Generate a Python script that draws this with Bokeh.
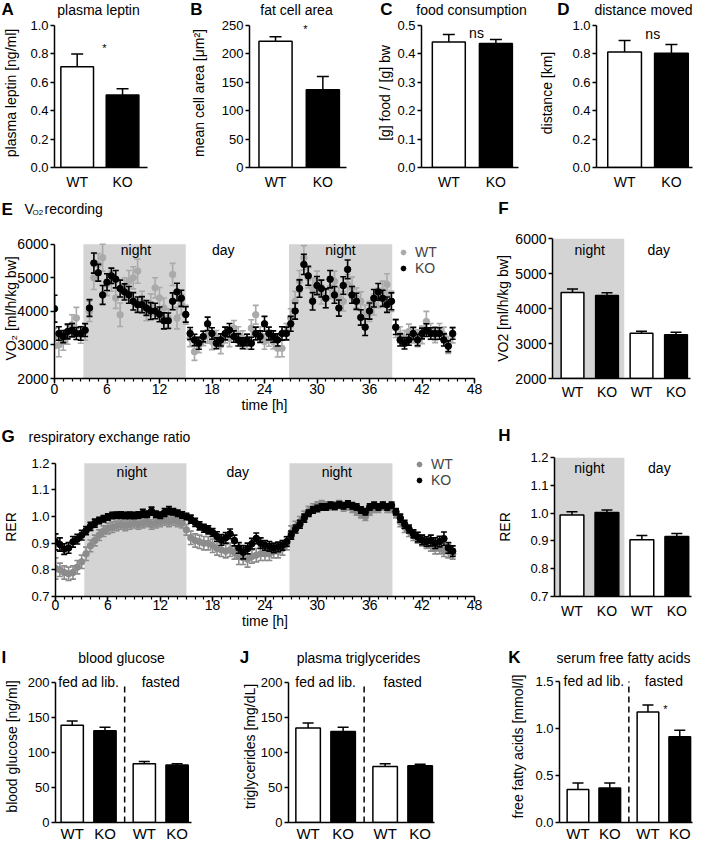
from bokeh.plotting import figure
from bokeh.layouts import column, row
from bokeh.models import (ColumnDataSource, Whisker, TeeHead, Label, FixedTicker,
                          SingleIntervalTicker, NumeralTickFormatter, Range1d,
                          Legend, LegendItem)
from bokeh.embed import file_html
from bokeh.resources import INLINE

FONT = "Liberation Sans"
SHADE = "#d4d4d4"

# ---------------- data ----------------
genotypes2 = ["WT", "KO"]
genotypes4 = ["WT", "KO", "WT", "KO"]

A_vals = [0.71, 0.51]; A_err = [0.09, 0.045]
B_vals = [222, 137]; B_err = [8, 23]
C_vals = [0.442, 0.437]; C_err = [0.026, 0.014]
D_vals = [0.814, 0.805]; D_err = [0.08, 0.062]

F_groups = ["night", "night", "day", "day"]
F_vals = [4460, 4370, 3295, 3250]; F_err = [100, 77, 57, 70]
H_groups = ["night", "night", "day", "day"]
H_vals = [0.993, 1.002, 0.904, 0.916]; H_err = [0.012, 0.009, 0.015, 0.011]

IJK_groups = ["fed ad lib.", "fed ad lib.", "fasted", "fasted"]
I_vals = [139, 131, 84, 82]; I_err = [6, 5, 3, 2]
J_vals = [135, 130, 80, 81]; J_err = [7, 6, 4, 2]
K_vals = [0.35, 0.366, 1.176, 0.912]; K_err = [0.07, 0.053, 0.074, 0.07]

night_hours = [(3.3, 15.0), (26.8, 38.6)]

E_KO = [4080, 3340, 3250, 3400, 3440, 3340, 3340, 3440,
        4100, 5440, 5150, 4490, 4870, 5060, 4960, 4680,
        4580, 4490, 4300, 4200, 4200, 4100, 4010, 4010,
        3910, 3720, 3720, 4300, 4580, 4390, 3910, 3340,
        3150, 3050, 3250, 3630, 3340, 3050, 3150, 3340,
        3440, 3250, 3150, 3050, 3150, 3050, 3340, 3250,
        3630, 3340, 3250, 3150, 3340, 3340, 3630, 4010,
        4680, 5400, 5060, 4300, 4770, 4680, 4390, 4960,
        4490, 4100, 4770, 5250, 4490, 4300, 3820, 3530,
        4010, 4390, 4580, 4390, 4200, 4300, 3530, 3150,
        3050, 3150, 3340, 3150, 3340, 3440, 3340, 3340,
        3340, 3150, 2960, 3340]
E_KO_err = [400, 200, 180, 220, 200, 180, 200, 190,
            250, 300, 250, 280, 250, 230, 260, 250,
            240, 250, 260, 230, 240, 220, 250, 230,
            220, 240, 230, 250, 260, 240, 230, 180,
            170, 180, 160, 200, 170, 160, 180, 190,
            200, 170, 180, 160, 170, 180, 190, 170,
            220, 190, 170, 180, 200, 190, 220, 240,
            260, 300, 280, 260, 270, 250, 280, 260,
            250, 240, 260, 280, 250, 240, 230, 250,
            240, 260, 250, 240, 230, 250, 220, 180,
            170, 160, 180, 170, 160, 190, 170, 180,
            170, 180, 160, 170]
E_WT = [3200, 3000, 3100, 3300, 3600, 3800, 3300, 3400,
        4000, 5000, 5400, 5600, 4800, 4900, 4400, 3900,
        4700, 4900, 5000, 5200, 4300, 4000, 4200, 4700,
        4400, 4100, 3800, 5100, 3800, 4200, 3900, 3200,
        2800, 3000, 3200, 3300, 3100, 3200, 3000, 3300,
        3200, 3500, 3300, 3200, 3100, 3500, 3900, 3300,
        3100, 3200, 3100, 2900, 2900, 3400, 3800, 4300,
        4900, 5600, 5000, 4700, 4900, 4500, 4400, 4700,
        4900, 4400, 4300, 4800, 4700, 4400, 4300, 3900,
        4000, 4200, 4400, 4600, 4800, 4300, 3500, 3300,
        3200, 3400, 3300, 3200, 3300, 3700, 3400, 3300,
        3400, 3300, 3000, 3300]
E_WT_err = [300, 350, 260, 280, 300, 320, 250, 260,
            300, 350, 320, 400, 330, 300, 310, 350,
            300, 320, 330, 360, 300, 280, 320, 300,
            310, 300, 280, 330, 320, 300, 280, 250,
            260, 230, 220, 250, 240, 230, 260, 240,
            250, 230, 240, 220, 230, 250, 280, 240,
            230, 240, 220, 260, 250, 240, 280, 300,
            320, 360, 300, 290, 300, 280, 300, 320,
            300, 310, 290, 300, 320, 300, 280, 290,
            300, 310, 290, 300, 320, 300, 280, 240,
            230, 220, 240, 250, 260, 300, 240, 230,
            240, 230, 250, 240]

G_KO = [0.905, 0.895, 0.878, 0.882, 0.905, 0.915, 0.930, 0.947,
        0.963, 0.975, 0.985, 0.992, 0.998, 1.004, 1.005, 1.006,
        1.004, 1.005, 1.004, 1.006, 1.012, 1.008, 1.020, 1.008,
        1.005, 1.015, 1.022, 1.018, 1.012, 1.006, 1.000, 0.990,
        0.978, 0.965, 0.956, 0.950, 0.940, 0.925, 0.912, 0.920,
        0.935, 0.910, 0.882, 0.866, 0.880, 0.898, 0.918, 0.900,
        0.892, 0.888, 0.882, 0.886, 0.892, 0.906, 0.930, 0.953,
        0.971, 0.994, 1.012, 1.024, 1.030, 1.036, 1.036, 1.042,
        1.038, 1.044, 1.040, 1.047, 1.040, 1.036, 1.024, 1.018,
        1.036, 1.042, 1.036, 1.042, 1.036, 1.042, 1.018, 0.994,
        0.971, 0.953, 0.935, 0.923, 0.912, 0.906, 0.910, 0.900,
        0.906, 0.917, 0.882, 0.870]
G_KO_err = [0.030, 0.025, 0.020, 0.020, 0.020, 0.018, 0.018, 0.015,
            0.015, 0.015, 0.012, 0.012, 0.012, 0.012, 0.012, 0.012,
            0.012, 0.012, 0.012, 0.012, 0.015, 0.012, 0.015, 0.012,
            0.012, 0.015, 0.015, 0.012, 0.012, 0.012, 0.012, 0.015,
            0.015, 0.015, 0.015, 0.015, 0.015, 0.018, 0.020, 0.020,
            0.018, 0.020, 0.020, 0.025, 0.020, 0.020, 0.020, 0.020,
            0.018, 0.018, 0.018, 0.018, 0.018, 0.018, 0.015, 0.015,
            0.015, 0.015, 0.012, 0.012, 0.012, 0.012, 0.012, 0.012,
            0.012, 0.012, 0.012, 0.012, 0.012, 0.012, 0.012, 0.012,
            0.012, 0.012, 0.012, 0.012, 0.012, 0.012, 0.012, 0.015,
            0.015, 0.015, 0.015, 0.018, 0.018, 0.018, 0.020, 0.020,
            0.020, 0.025, 0.020, 0.020]
G_WT = [0.805, 0.800, 0.790, 0.785, 0.790, 0.810, 0.830, 0.860,
        0.890, 0.910, 0.930, 0.945, 0.955, 0.960, 0.965, 0.970,
        0.965, 0.970, 0.975, 0.970, 0.975, 0.980, 0.970, 0.975,
        0.980, 0.985, 0.980, 0.985, 0.980, 0.975, 0.950, 0.920,
        0.910, 0.905, 0.900, 0.900, 0.890, 0.880, 0.875, 0.870,
        0.875, 0.865, 0.850, 0.845, 0.840, 0.850, 0.855, 0.860,
        0.860, 0.860, 0.870, 0.870, 0.880, 0.900, 0.940, 0.960,
        0.980, 1.000, 1.020, 1.030, 1.040, 1.045, 1.040, 1.040,
        1.040, 1.045, 1.035, 1.040, 1.030, 1.020, 1.010, 1.000,
        1.020, 1.030, 1.030, 1.040, 1.030, 1.030, 1.010, 0.980,
        0.960, 0.945, 0.930, 0.920, 0.910, 0.900, 0.890, 0.880,
        0.880, 0.870, 0.870, 0.860]
G_WT_err = [0.040, 0.025, 0.025, 0.025, 0.025, 0.025, 0.025, 0.025,
            0.022, 0.020, 0.020, 0.020, 0.020, 0.020, 0.018, 0.018,
            0.018, 0.018, 0.018, 0.018, 0.018, 0.018, 0.018, 0.018,
            0.018, 0.018, 0.018, 0.018, 0.018, 0.018, 0.020, 0.025,
            0.025, 0.025, 0.025, 0.025, 0.025, 0.025, 0.025, 0.025,
            0.025, 0.025, 0.030, 0.025, 0.030, 0.025, 0.025, 0.025,
            0.025, 0.025, 0.025, 0.025, 0.025, 0.025, 0.025, 0.022,
            0.020, 0.020, 0.018, 0.018, 0.015, 0.015, 0.015, 0.015,
            0.015, 0.015, 0.015, 0.015, 0.015, 0.015, 0.015, 0.015,
            0.015, 0.015, 0.015, 0.015, 0.015, 0.015, 0.015, 0.018,
            0.020, 0.020, 0.020, 0.020, 0.020, 0.020, 0.020, 0.020,
            0.020, 0.020, 0.025, 0.020]
hours = [i * 0.5 for i in range(len(E_KO))]

A_ticks = [0.0, 0.2, 0.4, 0.6, 0.8, 1.0]
B_ticks = [0, 50, 100, 150, 200, 250]
C_ticks = [0.0, 0.1, 0.2, 0.3, 0.4, 0.5]
D_ticks = [0.0, 0.2, 0.4, 0.6, 0.8, 1.0]
VO2_ticks = [2000, 3000, 4000, 5000, 6000]
RER_ticks = [0.7, 0.8, 0.9, 1.0, 1.1, 1.2]
I_ticks = [0, 50, 100, 150, 200]
J_ticks = [0, 50, 100, 150, 200]
K_ticks = [0.0, 0.5, 1.0, 1.5]

# ---------------- layout geometry (page pixels) ----------------
PAGE_W = 693
# band: (header top, header bottom = row top, row bottom, vertical shift ref->page)
BANDS = {1: (0, 18, 193, -2), 2: (193, 221, 421, -4),
         3: (421, 445, 633, -7), 4: (633, 670, 844, -16)}

PANELS = {}


def style_axis(ax, tick_size="13px", label_size="14px"):
    ax.axis_line_color = "black"
    ax.axis_line_width = 1.5
    ax.major_tick_line_color = "black"
    ax.major_tick_line_width = 1.5
    ax.major_tick_out = 4
    ax.major_tick_in = 0
    ax.minor_tick_line_color = None
    ax.major_label_text_font = FONT
    ax.major_label_text_font_size = tick_size
    ax.major_label_text_color = "black"
    ax.axis_label_text_font = FONT
    ax.axis_label_text_font_size = label_size
    ax.axis_label_text_font_style = "normal"
    ax.axis_label_text_color = "black"
    ax.major_label_standoff = 2


def header(band, items):
    top, bottom, _, dy = BANDS[band]
    H = bottom - top
    p = figure(width=PAGE_W, height=H, x_range=Range1d(0, PAGE_W), y_range=Range1d(H, 0),
               x_axis_type=None, y_axis_type=None, output_backend="svg",
               toolbar_location=None, title=None, min_border=0)
    p.outline_line_color = None
    p.background_fill_color = "white"
    p.border_fill_color = "white"
    for rx, ry, dx, text, size, align, style in items:
        y = min(max(ry + dy - top, 9), H - 9)
        x = max(rx + dx, 1)
        p.add_layout(Label(x=x, y=y, text=text, text_align=align,
                           text_baseline="middle", text_font=FONT, text_font_size=size,
                           text_font_style=style, text_color="black"))
    return p


def make_fig(key, band, dx, xbox, frame, xr, yr, ext_px=0):
    _, top, bottom, dy = BANDS[band]
    l, r = xbox
    fl, ft, fr, fb = frame
    W = r - l
    H = bottom - top
    real_top = int(round(ft + dy))
    frame_top = max(real_top - ext_px, top)
    ext = real_top - frame_top
    fbot = int(round(fb + dy))
    y_end = yr[1] + ext / (fbot - real_top) * (yr[1] - yr[0])
    bl = fl - l
    br = r - fr
    bt = frame_top - top
    bb = bottom - fbot
    p = figure(width=W, height=H, x_range=Range1d(*xr), y_range=Range1d(yr[0], y_end),
               output_backend="svg", toolbar_location=None, title=None,
               min_border_left=bl, min_border_right=br,
               min_border_top=bt, min_border_bottom=bb)
    p.outline_line_color = None
    p.grid.visible = False
    p.background_fill_color = "white"
    p.border_fill_color = "white"
    PANELS[key] = dict(p=p, l=l + dx, t=top, dx=dx, dy=dy, fx0=bl, fx1=W - br,
                       fy0=bt, fy1=H - bb, xr=xr, yr=(yr[0], y_end))
    return p


def put(key, rx, ry, text, size="14px", align="center", style="normal", dx=None):
    d = PANELS[key]
    py = ry + d["dy"] - d["t"]
    x0, x1 = d["xr"]
    y0, y1 = d["yr"]
    if dx is None:
        px = rx + d["dx"] - d["l"]
        dx = x0 + (px - d["fx0"]) / (d["fx1"] - d["fx0"]) * (x1 - x0)
    dyv = y1 - (py - d["fy0"]) / (d["fy1"] - d["fy0"]) * (y1 - y0)
    d["p"].add_layout(Label(x=dx, y=dyv, text=text, text_align=align,
                            text_baseline="middle", text_font=FONT,
                            text_font_size=size, text_font_style=style,
                            text_color="black"))


def bar_panel(key, band, dx, xbox, frame, xr, yr, yticks, fmt, ylabel, genos, vals, errs,
              width, groups=None, gap=0.0, shade_first=False, dashed=False, ext_px=0,
              tick_size="13px", xl_size="14px", yl_standoff=5, xl_standoff=6, cap=12):
    p = make_fig(key, band, dx, xbox, frame, xr, yr, ext_px)
    if groups is None:
        groups = ["all"] * len(vals)
    order = []
    for g in groups:
        if g not in order:
            order.append(g)
    xs = [i + gap * order.index(g) for i, g in enumerate(groups)]
    if len(order) > 1:
        last0 = max(x for x, g in zip(xs, groups) if g == order[0])
        first1 = min(x for x, g in zip(xs, groups) if g == order[1])
        boundary = (last0 + first1) / 2
        if shade_first:
            p.quad(left=xr[0], right=boundary, bottom=yr[0], top=yr[1],
                   fill_color=SHADE, line_color=None)
        if dashed:
            p.segment(x0=boundary, y0=yr[0], x1=boundary, y1=yr[1], line_color="black",
                      line_width=1.5, line_dash="6 4")
    fills = ["white" if g == "WT" else "black" for g in genos]
    src = ColumnDataSource(dict(x=xs, top=vals, upper=[v + e for v, e in zip(vals, errs)],
                                fill=fills))
    p.vbar(x="x", top="top", bottom=yr[0], width=width, fill_color="fill",
           line_color="black", line_width=1.5, source=src)
    p.add_layout(Whisker(source=src, base="x", upper="upper", lower="top",
                         dimension="height", line_color="black", line_width=1.5,
                         level="annotation",
                         upper_head=TeeHead(size=cap, line_color="black", line_width=1.5),
                         lower_head=None))
    for ax in p.axis:
        style_axis(ax, tick_size)
    p.yaxis.ticker = FixedTicker(ticks=yticks)
    p.yaxis.bounds = (yr[0], yr[1])
    if fmt:
        p.yaxis.formatter = NumeralTickFormatter(format=fmt)
    p.yaxis.axis_label = ylabel
    p.yaxis.axis_label_standoff = yl_standoff
    p.xaxis.ticker = FixedTicker(ticks=xs)
    p.xaxis.major_label_overrides = {x: g for x, g in zip(xs, genos)}
    p.xaxis.major_tick_line_color = None
    p.xaxis.major_tick_out = 0
    p.xaxis.major_label_text_font_size = xl_size
    p.xaxis.major_label_standoff = xl_standoff
    means = {g: sum(x for x, gg in zip(xs, groups) if gg == g) /
             sum(1 for gg in groups if gg == g) for g in order}
    return p, means


def ts_panel(key, band, dx, xbox, frame, yr, yticks, fmt, ylabel, wt, wt_err, ko, ko_err,
             wt_color, legend_ref, yl_standoff, tick_size, xtick_standoff, ext_px):
    p = make_fig(key, band, dx, xbox, frame, (0, 48), yr, ext_px)
    for a, b in night_hours:
        p.quad(left=a, right=b, bottom=yr[0], top=yr[1], fill_color=SHADE, line_color=None)
    rends = []
    for vals, errs, col in [(wt, wt_err, wt_color), (ko, ko_err, "black")]:
        src = ColumnDataSource(dict(t=hours, v=vals,
                                    lo=[v - e for v, e in zip(vals, errs)],
                                    hi=[v + e for v, e in zip(vals, errs)]))
        p.segment(x0="t", y0="lo", x1="t", y1="hi", line_color=col, line_width=1.6, source=src)
        p.scatter("t", "hi", marker="dash", size=6, line_color=col, line_width=1.6, source=src)
        p.scatter("t", "lo", marker="dash", size=6, line_color=col, line_width=1.6, source=src)
        r = p.scatter("t", "v", size=6.5, fill_color=col, line_color=col, source=src)
        rends.append(r)
    for ax in p.axis:
        style_axis(ax, tick_size)
    p.yaxis.ticker = FixedTicker(ticks=yticks)
    p.yaxis.bounds = (yr[0], yr[1])
    if fmt:
        p.yaxis.formatter = NumeralTickFormatter(format=fmt)
    p.yaxis.axis_label = ylabel
    p.yaxis.axis_label_standoff = yl_standoff
    p.xaxis.ticker = SingleIntervalTicker(interval=6, num_minor_ticks=6)
    p.xaxis.minor_tick_line_color = "black"
    p.xaxis.minor_tick_line_width = 1.2
    p.xaxis.minor_tick_out = 3
    p.xaxis.minor_tick_in = 0
    p.xaxis.major_tick_out = 5
    p.xaxis.major_label_standoff = xtick_standoff
    p.xaxis.major_label_text_font_size = "14px"
    p.xaxis.axis_label = "time [h]"
    p.xaxis.axis_label_standoff = 0
    d = PANELS[key]
    lx, ly = legend_ref
    leg_h = 32
    loc = (lx + d["dx"] - d["l"] - d["fx0"], d["fy1"] - (ly + d["dy"] - d["t"]) - leg_h)
    leg = Legend(items=[LegendItem(label="WT", renderers=[rends[0]]),
                        LegendItem(label="KO", renderers=[rends[1]])],
                 location=loc, background_fill_alpha=0, border_line_color=None,
                 label_text_font=FONT, label_text_font_size="14px",
                 glyph_width=12, glyph_height=16, label_height=16, label_standoff=6,
                 spacing=0, padding=0, margin=0)
    p.add_layout(leg)
    return p


def LB(dx, align="center"):
    return (dx, None, "17px", align, "bold")


def hi(rx, ry, dx, text, size="14px", align="center", style="normal"):
    return (rx, ry, dx, text, size, align, style)


# ---------------- row 1 ----------------
dA, dB, dC, dD = -2, -4, -7, -10
h1 = header(1, [hi(3, 12, dA, "A", "17px", "left", "bold"), hi(100, 13, dA, "plasma leptin"),
                hi(200, 12, dB, "B", "17px", "center", "bold"), hi(300, 13, dB, "fat cell area"),
                hi(393, 12, dC, "C", "17px", "center", "bold"), hi(478, 12, dC, "food consumption"),
                hi(573, 12, dD, "D", "17px", "center", "bold"), hi(653, 12, dD, "distance moved")])

pA, _ = bar_panel("A", 1, dA, (2, 189), (52, 27, 149, 169), (-0.5, 1.55), (0, 1.0), A_ticks,
                  "0.0", "plasma leptin [ng/ml]", genotypes2, A_vals, A_err, 0.72,
                  ext_px=10, yl_standoff=8)
put("A", 104, 49, "*", size="11px")

pB, _ = bar_panel("B", 1, dB, (191, 375), (253, 27, 350, 170), (-0.55, 1.5), (0, 250), B_ticks,
                  None, "mean cell area [μm²]", genotypes2, B_vals, B_err, 0.7,
                  ext_px=10, yl_standoff=12)
put("B", 309, 31, "*", size="11px")

pC, _ = bar_panel("C", 1, dC, (378, 543), (428, 27, 525, 169), (-0.58, 1.48), (0, 0.5), C_ticks,
                  "0.0", "[g] food / [g] bw", genotypes2, C_vals, C_err, 0.7,
                  ext_px=10, yl_standoff=1)
put("C", 483, 34, "ns")

pD, _ = bar_panel("D", 1, dD, (546, 703), (603, 27, 702, 169), (-0.6, 1.45), (0, 1.0), D_ticks,
                  "0.0", "distance [km]", genotypes2, D_vals, D_err, 0.72,
                  ext_px=10, yl_standoff=14)
put("D", 661, 35, "ns")

# ---------------- row 2 ----------------
dE, dF = -2, -10
h2 = header(2, [hi(3, 213, dE, "E", "17px", "left", "bold"), hi(26, 212, dE, "V", "14px", "left"),
                hi(34, 217, dE, "O2", "8px", "left"),
                hi(46, 212, dE, "recording", "14px", "left"),
                hi(513, 212, dF, "F", "17px", "center", "bold")])

pE = ts_panel("E", 2, dE, (2, 487), (53, 242, 476, 382), (2000, 6000), VO2_ticks, None,
              "VO₂ [ml/h/kg bw]", E_WT, E_WT_err, E_KO, E_KO_err, "#aaaaaa",
              (396, 248), -5, "14px", 0, 6)
put("E", 135, 248, "night")
put("E", 223, 248, "day")
put("E", 341, 248, "night")

pF, Fm = bar_panel("F", 2, dF, (495, 703), (562, 242, 700, 382), (-0.58, 3.42), (2000, 6000),
                   VO2_ticks, None, "VO2 [ml/h/kg bw]", genotypes4, F_vals, F_err, 0.66,
                   groups=F_groups, shade_first=True, tick_size="14px", yl_standoff=1,
                   xl_standoff=5, cap=11)
put("F", None, 253, "night", dx=Fm["night"])
put("F", None, 253, "day", dx=Fm["day"])

# ---------------- row 3 ----------------
dG, dH = -2, -11
h3 = header(3, [hi(3, 443, dG, "G", "17px", "left", "bold"),
                hi(30, 443, dG, "respiratory exchange ratio", "14px", "left"),
                hi(515, 442, dH, "H", "17px", "center", "bold")])

pG = ts_panel("G", 3, dG, (2, 487), (53, 462, 476, 603), (0.7, 1.2), RER_ticks, "0.0",
              "RER", G_WT, G_WT_err, G_KO, G_KO_err, "#8c8c8c",
              (411, 463), 9, "13px", -2, 6)
put("G", 130, 471, "night")
put("G", 237, 471, "day")
put("G", 337, 471, "night")

pH, Hm = bar_panel("H", 3, dH, (496, 704), (565, 464, 702, 605), (-0.5, 3.42), (0.7, 1.2),
                   RER_ticks, "0.0", "RER", genotypes4, H_vals, H_err, 0.68,
                   groups=H_groups, shade_first=True, tick_size="13px", yl_standoff=14,
                   xl_standoff=6, cap=11)
put("H", None, 475, "night", dx=Hm["night"])
put("H", None, 475, "day", dx=Hm["day"])

# ---------------- row 4 ----------------
dI, dJ, dK = -2, -5, -9
h4 = header(4, [hi(3, 673, dI, "I", "17px", "left", "bold"), hi(123, 673, dI, "blood glucose"),
                hi(249, 673, dJ, "J", "17px", "center", "bold"),
                hi(363, 673, dJ, "plasma triglycerides"),
                hi(523, 673, dK, "K", "17px", "center", "bold"),
                hi(632, 673, dK, "serum free fatty acids")])

pI, Im = bar_panel("I", 4, dI, (2, 238), (52, 698, 193, 839), (-0.51, 3.64), (0, 200), I_ticks,
                   None, "blood glucose [ng/ml]", genotypes4, I_vals, I_err, 0.68,
                   groups=IJK_groups, gap=0.2, dashed=True, ext_px=14, tick_size="13px",
                   xl_size="15px", yl_standoff=5, xl_standoff=2, cap=11)
put("I", None, 698, "fed ad lib.", dx=Im["fed ad lib."])
put("I", None, 698, "fasted", dx=Im["fasted"])

pJ, Jm = bar_panel("J", 4, dJ, (241, 512), (293, 698, 439, 839), (-0.56, 3.61), (0, 200), J_ticks,
                   None, "triglycerides [mg/dL]", genotypes4, J_vals, J_err, 0.7,
                   groups=IJK_groups, gap=0.2, dashed=True, ext_px=14, tick_size="13px",
                   xl_size="15px", yl_standoff=0, xl_standoff=2, cap=11)
put("J", None, 698, "fed ad lib.", dx=Jm["fed ad lib."])
put("J", None, 698, "fasted", dx=Jm["fasted"])

pK, Km = bar_panel("K", 4, dK, (516, 702), (563, 697, 701, 839), (-0.58, 3.6), (0, 1.5), K_ticks,
                   "0.0", "free fatty acids [mmol/l]", genotypes4, K_vals, K_err, 0.68,
                   groups=IJK_groups, gap=0.2, dashed=True, ext_px=14, tick_size="13px",
                   xl_size="15px", yl_standoff=6, xl_standoff=2, cap=11)
put("K", None, 697, "fed ad lib.", dx=Km["fed ad lib."])
put("K", None, 697, "fasted", dx=Km["fasted"])
put("K", 673, 725, "*", size="11px")

layout = column(h1, row(pA, pB, pC, pD), h2, row(pE, pF), h3, row(pG, pH),
                h4, row(pI, pJ, pK))
open("out.html", "w").write(file_html(layout, INLINE))
